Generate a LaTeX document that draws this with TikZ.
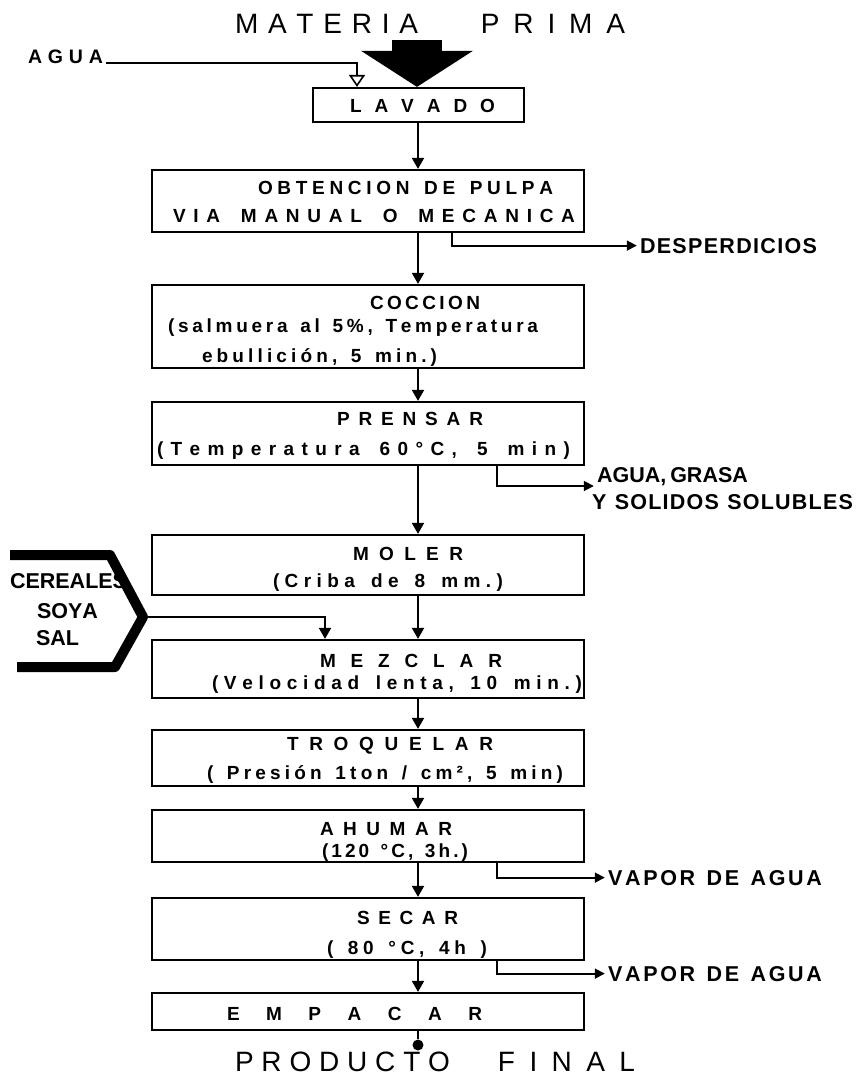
\documentclass[tikz,border=0pt]{standalone}
\usepackage{fontspec}
\setmainfont{Liberation Sans}
\usetikzlibrary{arrows.meta}
\ExplSyntaxOn
\tl_new:N \l__fit_text_tl
\NewDocumentCommand \fitw { m m }
  {
    \tl_set:Nn \l__fit_text_tl { #2 }
    \tl_replace_all:Nnn \l__fit_text_tl { ~ } { { ~ } }
    \makebox[#1][s]{ \tl_map_inline:Nn \l__fit_text_tl { ##1 \hfill } \unskip }
  }
\ExplSyntaxOff
\begin{document}
\begin{tikzpicture}[x=1pt,y=-1pt,
  box/.style={draw, line width=2.2pt, inner sep=0pt},
  bt/.style={inner sep=0pt, anchor=base, font=\bfseries\fontsize{19}{19}\selectfont},
  st/.style={inner ysep=0pt, inner xsep=3pt, anchor=base, font=\bfseries\fontsize{21.5}{21.5}\selectfont},
  tt/.style={inner sep=0pt, anchor=base, font=\fontsize{28}{28}\selectfont},
  arr/.style={line width=1.8pt, -{Triangle[width=12pt,length=11pt]}},
  sarr/.style={line width=1.8pt, -{Triangle[width=10pt,length=10pt]}},
  oarr/.style={line width=1.6pt, -{Triangle[open,width=16pt,length=12pt]}},
  bigarr/.style={line width=50pt, -{Triangle[width=110pt,length=36pt]}},
  ln/.style={line width=1.8pt}]
\fill[white] (0,0) rectangle (857,1080);
\useasboundingbox (0,0) rectangle (857,1080);

% guide coordinates
\coordinate (spine) at (418,0);
\coordinate (ax) at (357,0);
\coordinate (bx1) at (452,0);
\coordinate (bx2) at (497,0);
\coordinate (bx3) at (497,0);
\coordinate (cx) at (325,0);
\coordinate (bigtop) at (417,40);

% boxes
\node[box, minimum width=211pt, minimum height=34pt] (lav) at (418.5,105) {};
\node[box, minimum width=432pt, minimum height=62pt] (obt) at (368,201) {};
\node[box, minimum width=432pt, minimum height=83pt] (coc) at (368,326.5) {};
\node[box, minimum width=432pt, minimum height=63pt] (pre) at (368,433.5) {};
\node[box, minimum width=432pt, minimum height=60pt] (mol) at (368,565) {};
\node[box, minimum width=432pt, minimum height=58pt] (mez) at (368,669) {};
\node[box, minimum width=432pt, minimum height=56pt] (tro) at (368,758) {};
\node[box, minimum width=432pt, minimum height=52pt] (ahu) at (368,836) {};
\node[box, minimum width=432pt, minimum height=62pt] (sec) at (368,929) {};
\node[box, minimum width=432pt, minimum height=37pt] (emp) at (368,1011.5) {};

% box texts
\node[bt] (lavT) at (422.5,112) {\fitw{145pt}{LAVADO}};
\node[bt] (obtA) at (405.5,194) {\fitw{295pt}{OBTENCION DE PULPA}};
\node[bt] (obtB) at (374,222) {\fitw{402pt}{VIA MANUAL O MECANICA}};
\node[bt] (cocA) at (425,309) {\fitw{110pt}{COCCION}};
\node[bt] (cocB) at (353,332) {\fitw{370pt}{(salmuera al 5\%, Temperatura}};
\node[bt] (cocC) at (319.5,362) {\fitw{235pt}{ebullición, 5 min.)}};
\node[bt] (preA) at (410,425) {\fitw{146pt}{PRENSAR}};
\node[bt] (preB) at (363.5,455) {\fitw{413pt}{(Temperatura 60°C, 5 min)}};
\node[bt] (molA) at (408,560) {\fitw{110pt}{MOLER}};
\node[bt] (molB) at (388,587) {\fitw{230pt}{(Criba de 8 mm.)}};
\node[bt] (mezA) at (411,667) {\fitw{182pt}{MEZCLAR}};
\node[bt] (mezB) at (397,689) {\fitw{370pt}{(Velocidad lenta, 10 min.)}};
\node[bt] (troA) at (390,750) {\fitw{206pt}{TROQUELAR}};
\node[bt] (troB) at (385,779) {\fitw{356pt}{( Presión 1ton / cm², 5 min)}};
\node[bt] (ahuA) at (386,835) {\fitw{132pt}{AHUMAR}};
\node[bt] (ahuB) at (395,857) {\fitw{146pt}{(120 °C, 3h.)}};
\node[bt] (secA) at (407.5,924) {\fitw{101pt}{SECAR}};
\node[bt] (secB) at (407,954) {\fitw{160pt}{( 80 °C, 4h )}};
\node[bt] (empT) at (354.5,1020) {\fitw{255pt}{EMPACAR}};

% titles
\node[tt] (mp) at (430,33) {\fitw{183pt}{MATERIA}\hspace{63pt}\fitw{144pt}{PRIMA}};
\node[tt] (pf) at (435,1071) {\fitw{215pt}{PRODUCTO}\hspace{48pt}\fitw{137pt}{FINAL}};

% side labels
\node[st, font=\bfseries\fontsize{19.5}{19.5}\selectfont] (agua) at (65.5,63) {\fitw{75pt}{AGUA}};
\node[st] (desp) at (728.5,253) {\fitw{177pt}{DESPERDICIOS}};
\node[st] (agr) at (667,482) {\fitw{140pt}{AGUA, GRASA}};
\node[st] (ysol) at (722.5,509) {\fitw{261pt}{Y SOLIDOS SOLUBLES}};
\node[st] (vap1) at (715,885) {\fitw{214pt}{VAPOR DE AGUA}};
\node[st] (vap2) at (715,981) {\fitw{214pt}{VAPOR DE AGUA}};
\node[st, inner xsep=0pt] (cer) at (64,588) {\fitw{108pt}{CEREALES}};
\node[st, inner xsep=0pt] (soya) at (61,618) {\fitw{48pt}{SOYA}};
\node[st, inner xsep=0pt] (sal) at (56,645) {\fitw{40pt}{SAL}};

% big input arrow
\draw[bigarr] (bigtop) -- (lav.north -| bigtop);

% water input
\draw[oarr] (agua.base east) -| (lav.north -| ax);

% main flow
\foreach \a/\b in {lav/obt, obt/coc, coc/pre, pre/mol, mol/mez, mez/tro, tro/ahu, ahu/sec, sec/emp}
  \draw[arr] (\a.south -| spine) -- (\b.north -| spine);
\node[circle, fill, inner sep=0pt, minimum size=11pt] (endc) at (418,1045) {};
\draw[ln] (emp.south -| spine) -- (endc);

% outputs
\draw[sarr] (obt.south -| bx1) |- (desp.west);
\draw[sarr] (pre.south -| bx2) |- ([yshift=-4pt]agr.base west);
\draw[sarr] (ahu.south -| bx3) |- (vap1.west);
\draw[sarr] (sec.south -| bx3) |- (vap2.west);

% cereals chevron
\coordinate (cv) at (143,617);
\draw[line width=10pt, line join=round] (10,555) -- (110,555) -- (cv) -- (115,667) -- (17,667);
\draw[arr] (cv) -| (mez.north -| cx);
\end{tikzpicture}
\end{document}
